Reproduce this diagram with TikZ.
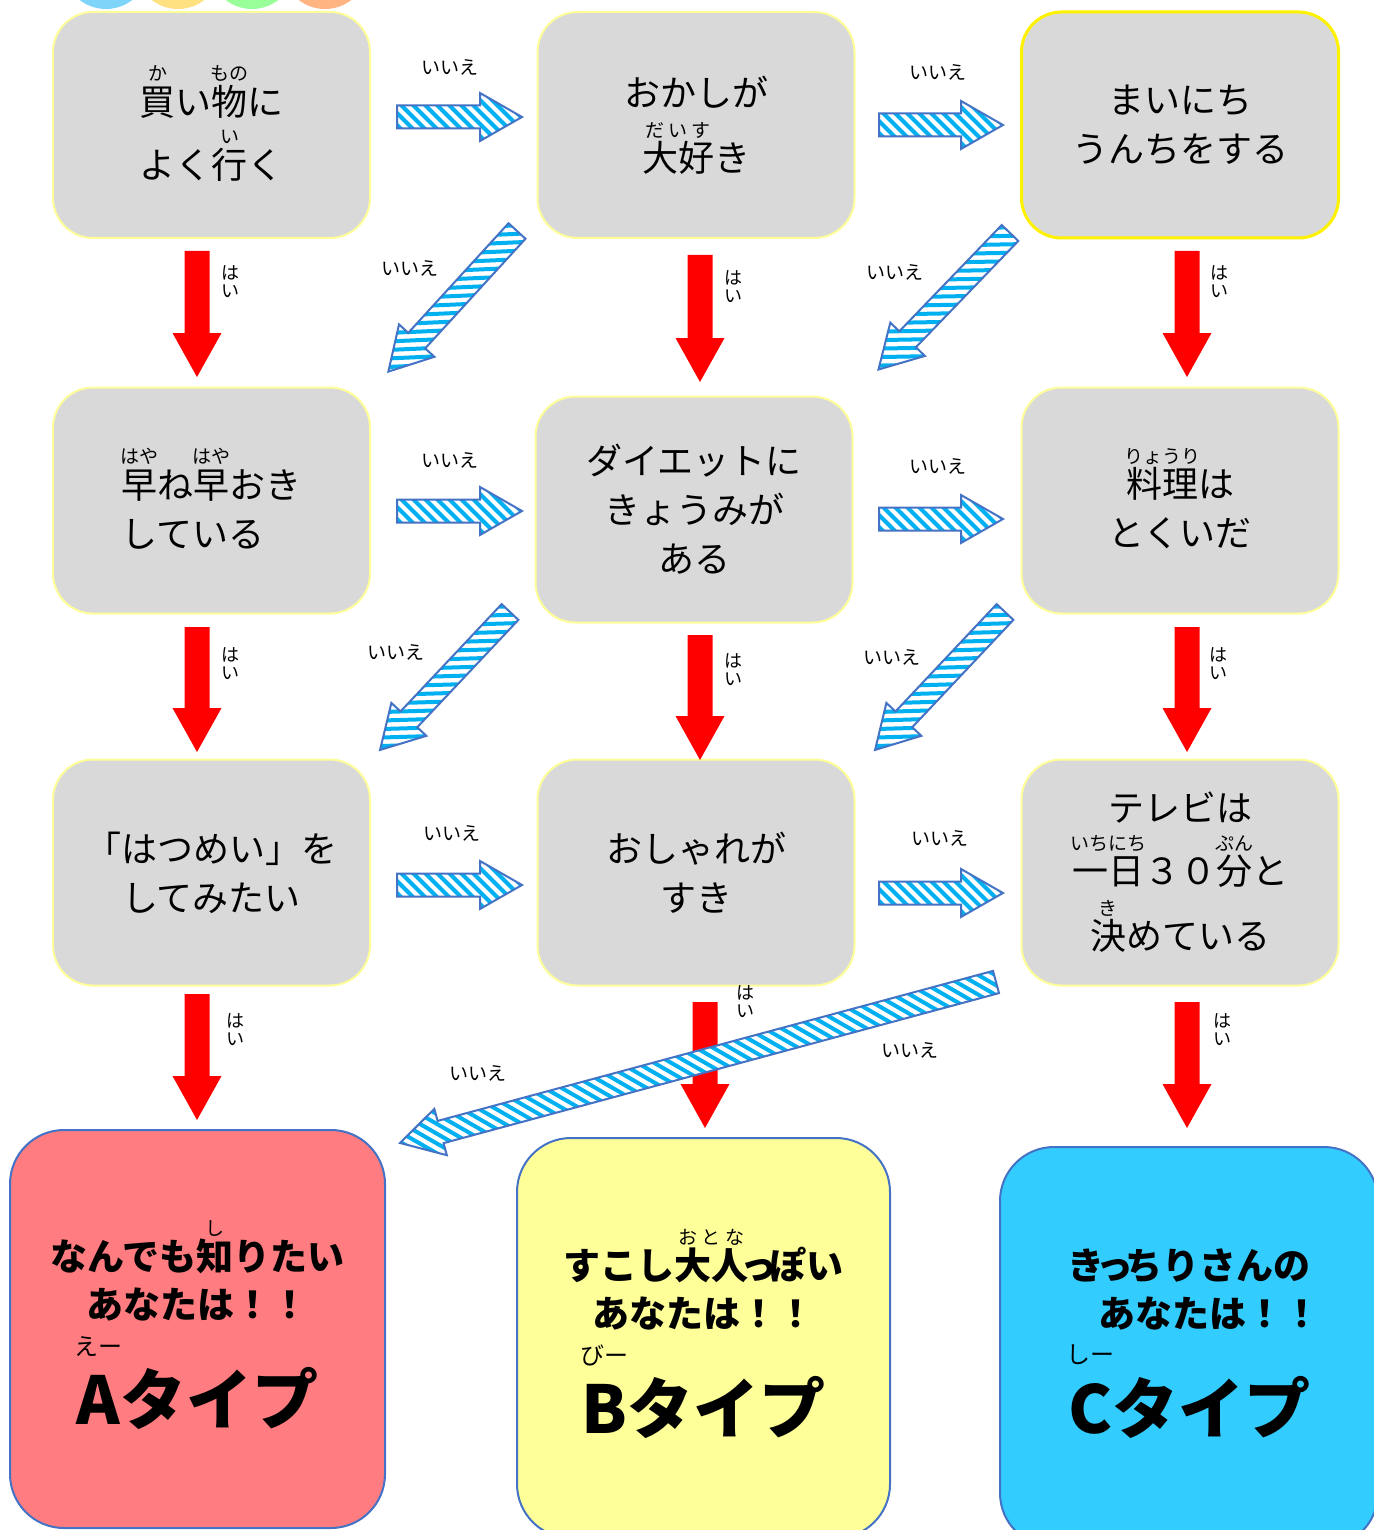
\documentclass[tikz,border=0pt]{standalone}
\usepackage{fontspec}
\setmainfont{Noto Sans CJK JP}
\usetikzlibrary{calc}

\definecolor{boxgray}{HTML}{D9D9D9}
\definecolor{boxedge}{HTML}{FFFF99}
\definecolor{haired}{HTML}{FF0000}
\definecolor{iieblue}{HTML}{00B0F0}
\definecolor{iieedge}{HTML}{4472C4}
\definecolor{typea}{HTML}{FF7C80}
\definecolor{typeb}{HTML}{FFFF99}
\definecolor{typec}{HTML}{33CCFF}
\definecolor{dotblue}{HTML}{7FD4FA}
\definecolor{dotyellow}{HTML}{FFE182}
\definecolor{dotgreen}{HTML}{99FF99}
\definecolor{dotorange}{HTML}{FFB482}

% furigana over a base text, takes no height
\newcommand{\ruby}[3][9.5pt]{\leavevmode\setbox0\hbox{#2}\rlap{\hbox to\wd0{\hss\raisebox{0.95em}[0pt][0pt]{\mdseries\fontsize{#1}{#1}\selectfont #3}\hss}}\box0}
\newcommand{\bigruby}[2]{\leavevmode\setbox0\hbox{#1}\rlap{\hbox to\wd0{\hss\raisebox{1.05em}[0pt][0pt]{\mdseries\fontsize{12pt}{12pt}\selectfont #2}\hss}}\box0}
\newcommand{\tsu}{\kern-4pt っ\kern-4pt}

% angle and length from one named point to another
\newcommand{\getvec}[2]{%
  \path let \p1=($(#2)-(#1)$) in \pgfextra{%
    \pgfmathsetmacro\tmpang{atan2(\y1,\x1)}%
    \pgfmathsetmacro\tmplen{veclen(\x1,\y1)}%
    \global\let\arrang\tmpang\global\let\arrlen\tmplen};}
\newcommand{\arrowpath}[3]{(0pt,#1) -- ({\arrlen pt-#3},#1) -- ({\arrlen pt-#3},#2) -- (\arrlen pt,0pt) -- ({\arrlen pt-#3},-#2) -- ({\arrlen pt-#3},-#1) -- (0pt,-#1) -- cycle}
\newcommand{\haiarrow}[2]{%
  \getvec{#1}{#2}%
  \begin{scope}[shift={(#1)}, rotate=\arrang]
    \fill[haifill] \arrowpath{6.25pt}{12.25pt}{22pt};
  \end{scope}}
\newcommand{\iiearrow}[2]{%
  \getvec{#1}{#2}%
  \begin{scope}[shift={(#1)}, rotate=\arrang]
    \fill[white] \arrowpath{5.75pt}{12pt}{21pt};
    \begin{scope}
      \clip \arrowpath{5.75pt}{12pt}{21pt};
      \foreach \s in {-5,...,55} \draw[iiestripe] ({\s*6pt},14pt) -- ++(28pt,-28pt);
    \end{scope}
    \draw[iieline] \arrowpath{5.75pt}{12pt}{21pt};
  \end{scope}}

\begin{document}
\begin{tikzpicture}[x=0.5pt, y=-0.5pt,
  qbox/.style={draw=boxedge, line width=1pt, fill=boxgray, rounded corners=20pt, minimum width=158.5pt, minimum height=113pt, inner sep=0pt, align=center, font=\fontsize{18pt}{24.5pt}\selectfont},
  tbox/.style={draw=iieedge, line width=1pt, rounded corners=27pt, inner sep=0pt, align=center, font=\bfseries\fontsize{18.5pt}{24pt}\selectfont},
  iietext/.style={font=\fontsize{9.5pt}{10pt}\selectfont, inner sep=0pt},
  haitext/.style={font=\fontsize{9pt}{9pt}\selectfont, inner sep=0pt, align=center},
  iieline/.style={draw=iieedge, line width=1pt, line join=miter},
  iiestripe/.style={draw=iieblue, line width=2pt},
  haifill/.style={fill=haired}]
\useasboundingbox (0,0) rectangle (1373,1530);

\fill[dotblue] (106,-34) circle (43);
\fill[dotyellow] (178,-34) circle (43);
\fill[dotgreen] (252,-34) circle (43);
\fill[dotorange] (325,-34) circle (43);

\node[qbox] (q1) at (211.5,125) {\rule{0pt}{23pt}\ruby{買}{か}い\ruby{物}{もの}に\\[7pt]よく\ruby{行}{い}く};
\node[qbox] (q2) at (696,125) {おかしが\\[8pt]\ruby{大好}{だ\ い\ す}き};
\node[qbox, draw=yellow, line width=1.5pt] (q3) at (1180,125) {まいにち\\うんちをする};
\node[qbox, align=left] (q4) at (211.5,500.5) {\rule{0pt}{23pt}\ruby{早}{はや}ね\ruby{早}{はや}おき\\している};
\node[qbox] (q5) at (694,509.5) {ダイエットに\\きょうみが\\ある};
\node[qbox] (q6) at (1180,500.5) {\rule{0pt}{23pt}\ruby{料理}{りょうり}は\\とくいだ};
\node[qbox] (q7) at (211.5,872.5) {「はつめい」を\\してみたい};
\node[qbox] (q8) at (696,872.5) {おしゃれが\\すき};
\node[qbox] (q9) at (1180,872.5) {テレビは\\[7pt]\ruby{一日}{いちにち}３０\ruby{分}{ぷん}と\\[8pt]\ruby{決}{き}めている};

\node[tbox, fill=typea, minimum width=187.5pt, minimum height=199pt] (ta) at (197.5,1329) {\rule{0pt}{21pt}なんでも\ruby{知}{し}りたい\\あなたは！！\\[22pt]{\fontsize{33pt}{36pt}\selectfont\bigruby{A}{えー}タイプ}};
\node[tbox, fill=typeb, minimum width=186.5pt, minimum height=200pt] (tb) at (703.5,1338) {\rule{0pt}{21pt}すこし\ruby{大人}{お\ と\ な}\tsu ぽい\\あなたは！！\\[22pt]{\fontsize{33pt}{36pt}\selectfont\bigruby{B}{びー}タイプ}};
\node[tbox, fill=typec, minimum width=189pt, minimum height=200pt] (tc) at (1189,1347) {き\tsu ちりさんの\\\hspace{20pt}あなたは！！\\[22pt]{\fontsize{33pt}{36pt}\selectfont\bigruby{C}{しー}タイプ\rule[-6pt]{0pt}{0pt}}};

% はい
\foreach \i/\xx/\ya/\yb in {1/197/251/377, 2/700/255/382, 3/1187/251/377, 4/197/627/752, 5/700/635/760, 6/1187/627/752, 7/197/994/1120, 8/705/1002/1128, 9/1187/1002/1128}{
  \coordinate (hai\i t) at (\xx,\ya);
  \coordinate (hai\i h) at (\xx,\yb);
  \haiarrow{hai\i t}{hai\i h}
}
% いいえ
\foreach \i/\xa/\ya/\xb/\yb in {1/397/117/522/117, 2/879/125/1003/125, 3/397/511/522/511, 4/879/519/1003/519, 5/397/885/522/885, 6/879/893/1003/893, 7/517/231/388/372, 8/1010/233/878/370, 9/510/612/380/750, 10/1005/612/875/750, 11/996/982/400/1143}{
  \coordinate (iie\i t) at (\xa,\ya);
  \coordinate (iie\i h) at (\xb,\yb);
  \iiearrow{iie\i t}{iie\i h}
}

\foreach \i/\xx/\yy in {1/230/282, 2/733/287, 3/1219/282, 4/230/664, 5/733/670, 6/1218/664, 7/235/1030, 8/745/1002, 9/1222/1030}
  \node[haitext] (hailabel\i) at (\xx,\yy) {は\\い};
\foreach \i/\xx/\yy in {1/450/67, 2/938/72, 3/450/460, 4/938/466, 5/452/833, 6/940/838, 7/410/268, 8/895/272, 9/396/652, 10/892/657, 11/478/1073, 12/910/1050}
  \node[iietext] (iielabel\i) at (\xx,\yy) {いいえ};
\end{tikzpicture}
\end{document}
